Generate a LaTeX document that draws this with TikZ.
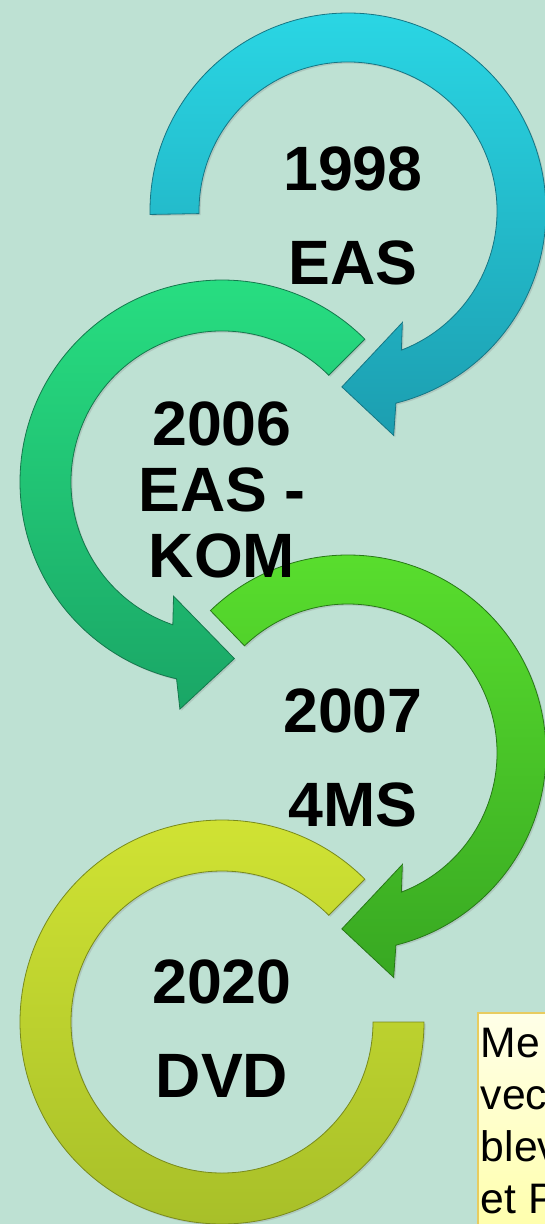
\documentclass[tikz,border=0pt]{standalone}
\usepackage{fontspec}
\setmainfont{Liberation Sans}
\usetikzlibrary{shadows}

\definecolor{bgmint}{RGB}{190,225,211}
\definecolor{cyanhi}{RGB}{42,214,228}
\definecolor{cyanlo}{RGB}{28,158,176}
\definecolor{cyanedge}{RGB}{22,118,132}
\definecolor{tealhi}{RGB}{40,224,130}
\definecolor{teallo}{RGB}{26,166,102}
\definecolor{tealedge}{RGB}{20,120,76}
\definecolor{greenhi}{RGB}{90,224,46}
\definecolor{greenlo}{RGB}{56,168,34}
\definecolor{greenedge}{RGB}{40,120,24}
\definecolor{yellowhi}{RGB}{210,228,52}
\definecolor{yellowlo}{RGB}{166,190,40}
\definecolor{yellowedge}{RGB}{120,138,28}
\definecolor{notetop}{RGB}{255,255,232}
\definecolor{notebot}{RGB}{255,255,160}
\definecolor{noteedge}{RGB}{232,204,96}

\tikzset{
  arrowband/.style={line width=0.6pt, drop shadow={shadow xshift=1.2pt, shadow yshift=-1.2pt, opacity=0.25}},
  cyanband/.style={arrowband, top color=cyanhi, bottom color=cyanlo, draw=cyanedge},
  tealband/.style={arrowband, top color=tealhi, bottom color=teallo, draw=tealedge},
  greenband/.style={arrowband, top color=greenhi, bottom color=greenlo, draw=greenedge},
  yellowband/.style={arrowband, top color=yellowhi, bottom color=yellowlo, draw=yellowedge},
  yeartext/.style={font=\bfseries\fontsize{47}{70.5}\selectfont, align=center, inner sep=0pt},
  noteframe/.style={draw=noteedge, line width=0.8pt, top color=notetop, bottom color=notebot},
  notetext/.style={font=\fontsize{32}{39}\selectfont, align=left, anchor=north west,
    inner xsep=2pt, inner ysep=11pt}
}

\begin{document}
\begin{tikzpicture}[x=0.75pt,y=0.75pt,yscale=-1,xscale=1]
\useasboundingbox (0,0) rectangle (545,1224);
\clip (0,0) rectangle (545,1224);
\fill[bgmint] (0,0) rectangle (545,1224);

% 1998 arrow, clockwise
\begin{scope}[shift={(348,211)},yscale=-1]
\path[cyanband] (181:198) arc[start angle=181, end angle=-76, radius=198]
  -- (-78.5:229) -- (-92:176) -- (-64:124) -- (-69:149)
  arc[start angle=-69, end angle=181, radius=149] -- cycle;
\end{scope}

% 2006 arrow, counterclockwise
\begin{scope}[shift={(222,482)},yscale=-1]
\path[tealband] (45:202) arc[start angle=45, end angle=257, radius=202]
  -- (259.5:231) -- (274:177) -- (247:124) -- (251:151)
  arc[start angle=251, end angle=45, radius=151] -- cycle;
\end{scope}

% 2007 arrow, clockwise
\begin{scope}[shift={(348,753)},yscale=-1]
\path[greenband] (134:198) arc[start angle=134, end angle=-76, radius=198]
  -- (-78.5:229) -- (-92:176) -- (-64:124) -- (-69:149)
  arc[start angle=-69, end angle=134, radius=149] -- cycle;
\end{scope}

% 2020 ring, no head
\begin{scope}[shift={(222,1022)},yscale=-1]
\path[yellowband] (45:202) arc[start angle=45, end angle=360, radius=202]
  -- (0:151) arc[start angle=360, end angle=45, radius=151] -- cycle;
\end{scope}

% Text Node
\node[yeartext] (eas) at (353,216) {1998\\EAS};
% Text Node
\node[yeartext, font=\bfseries\fontsize{47}{49.5}\selectfont] (easkom) at (222,490) {2006\\EAS -\\KOM};
% Text Node
\node[yeartext] (ms) at (353,758) {2007\\4MS};
% Text Node
\node[yeartext] (dvd) at (222,1029) {2020\\DVD};

% note box, runs off the page
\coordinate (notecorner) at (478,1013);
\path[noteframe] (notecorner) rectangle ++(120,260);
\node[notetext] (note) at (notecorner) {Me\\vec\\blev\\et P};

\end{tikzpicture}
\end{document}
